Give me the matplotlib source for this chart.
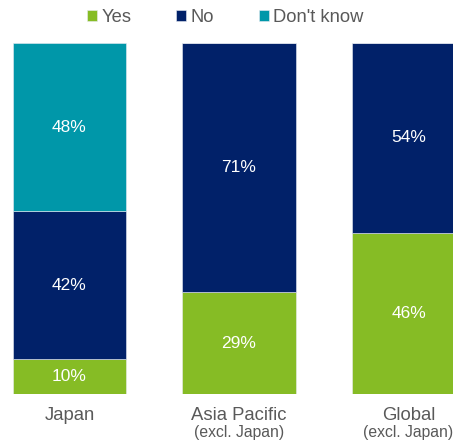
import matplotlib
matplotlib.use("Agg")
import matplotlib.pyplot as plt
import numpy as np

plt.rcParams['font.family'] = ['Liberation Sans', 'DejaVu Sans']

categories = ["Japan", "Asia Pacific", "Global"]
subtitles = ["", "(excl. Japan)", "(excl. Japan)"]
series_names = ["Yes", "No", "Don't know"]
yes = [10, 29, 46]
no = [42, 71, 54]
dont_know = [48, 0, 0]
colors = ["#86BC25", "#012169", "#0097A9"]
text_gray = "#595959"

fig = plt.figure(figsize=(4.53, 4.41), dpi=100)
ax = fig.add_axes([0, 0.1066, 1, 0.7959])

x = np.arange(len(categories))
width = 0.667
bottom = np.zeros(len(categories))
for name, vals, col in zip(series_names, [yes, no, dont_know], colors):
    vals = np.array(vals, dtype=float)
    ax.bar(x, vals, width, bottom=bottom, color=col, label=name,
           edgecolor="#e8ecf2", linewidth=0.4)
    for xi, v, b in zip(x, vals, bottom):
        if v > 0:
            ax.text(xi, b + v / 2, f"{int(v)}%", ha="center", va="center",
                    color="white", fontsize=12.5)
    bottom += vals

ax.set_xlim(-0.41, 2.2625)
ax.set_ylim(0, 100)
ax.axis("off")

for xi, cat, sub in zip(x, categories, subtitles):
    ax.annotate(cat, xy=(xi, 0), xycoords="data", xytext=(0, -22),
                textcoords="offset pixels", ha="center", va="center",
                fontsize=13.3, color=text_gray, annotation_clip=False)
    if sub:
        ax.annotate(sub, xy=(xi, 0), xycoords="data", xytext=(0, -39),
                    textcoords="offset pixels", ha="center", va="center",
                    fontsize=11.3, color=text_gray, annotation_clip=False)

leg = fig.legend(loc="center", bbox_to_anchor=(0.497, 0.961), ncol=3,
                 frameon=False, fontsize=13.2, handlelength=0.55,
                 handleheight=0.55, handletextpad=0.22, columnspacing=2.45,
                 borderpad=0)
for t in leg.get_texts():
    t.set_color(text_gray)

fig.savefig("out.png", dpi=100)
